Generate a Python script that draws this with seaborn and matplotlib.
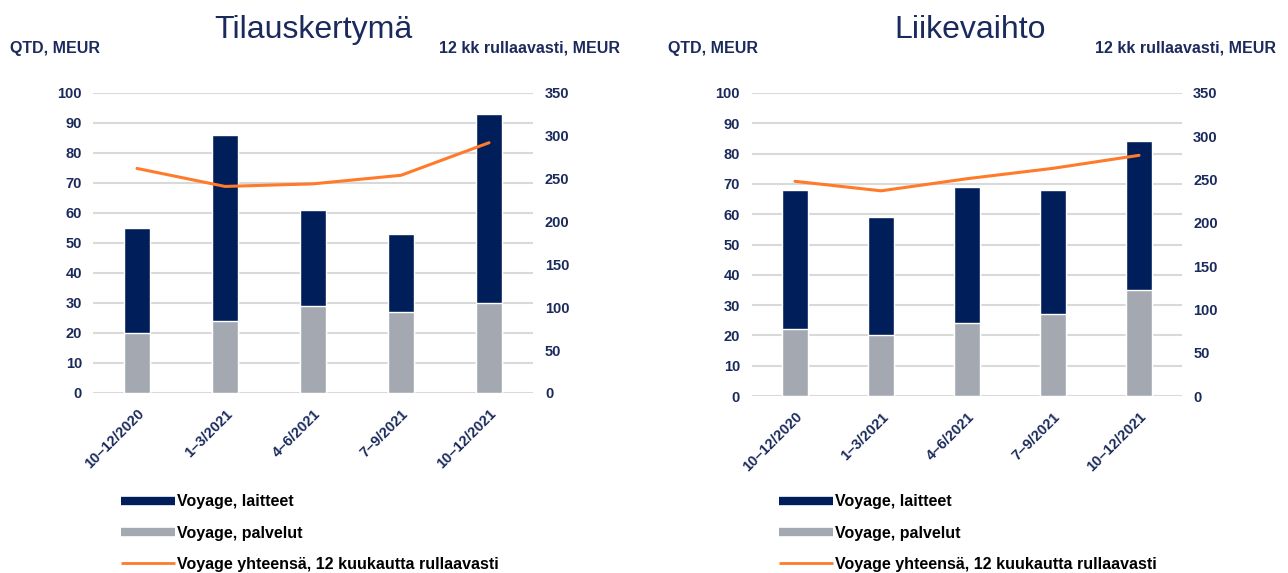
import pandas as pd
import numpy as np
import seaborn as sns
import matplotlib.pyplot as plt
from matplotlib.lines import Line2D

# --------------------------- DATA ---------------------------
quarters = ["10\u201312/2020", "1\u20133/2021", "4\u20136/2021", "7\u20139/2021", "10\u201312/2021"]

# Tilauskertymä
orders_laitteet = [35, 62, 32, 26, 63]
orders_palvelut = [20, 24, 29, 27, 30]
orders_rolling = [262, 241, 244, 254, 292]

# Liikevaihto
sales_laitteet = [46, 39, 45, 41, 49]
sales_palvelut = [22, 20, 24, 27, 35]
sales_rolling = [248, 237, 251, 263, 278]

titles = ["Tilauskertymä", "Liikevaihto"]
legend_labels = ["Voyage, laitteet", "Voyage, palvelut", "Voyage yhteensä, 12 kuukautta rullaavasti"]

# --------------------------- STYLE ---------------------------
sns.set_theme(style="white")
plt.rcParams['font.family'] = ['Liberation Sans', 'DejaVu Sans']

NAVY = '#001E5A'
GRAY = '#A4A8B1'
ORANGE = '#FF7A2A'
GRID = '#D9D9D9'
TXT = '#1B2A5C'

fig = plt.figure(figsize=(12.88, 5.73), dpi=100)
W, H = 1288, 573

panels = [
    dict(data=(orders_laitteet, orders_palvelut, orders_rolling), ax=(93, 93, 533, 393),
         title_x=313, hdr_l=10, hdr_r=620, leg_x=121, lpad=8, rpad=8.6, bw=0.306),
    dict(data=(sales_laitteet, sales_palvelut, sales_rolling), ax=(752, 93, 1182, 396),
         title_x=970, hdr_l=668, hdr_r=1276, leg_x=779, lpad=8.6, rpad=8, bw=0.313),
]

for title, p in zip(titles, panels):
    laitteet, palvelut, rolling = p['data']
    x0, y0, x1, y1 = p['ax']
    ax = fig.add_axes([x0 / W, 1 - y1 / H, (x1 - x0) / W, (y1 - y0) / H])

    df = pd.DataFrame({
        'quarter': quarters,
        'total': np.array(laitteet) + np.array(palvelut),
        'palvelut': palvelut,
        'rolling': rolling,
    })

    # stacked look: full height in navy, services drawn over it in gray
    sns.barplot(data=df, x='quarter', y='total', color=NAVY, width=p['bw'],
                saturation=1, ax=ax, zorder=3)
    sns.barplot(data=df, x='quarter', y='palvelut', color=GRAY, width=p['bw'],
                saturation=1, ax=ax, zorder=3)

    ax.set_ylim(0, 100)
    ax.set_yticks(range(0, 101, 10))
    ax.set_xlim(-0.5, 4.5)
    ax.yaxis.grid(True, color=GRID, linewidth=1.5, zorder=0)
    ax.set_axisbelow(True)
    for s in ax.spines.values():
        s.set_visible(False)
    ax.set_xlabel("")
    ax.set_ylabel("")
    ax.tick_params(axis='y', length=0, pad=p['lpad'], labelsize=10.5, labelcolor=TXT)
    ax.tick_params(axis='x', length=0, pad=10, labelsize=10.5, labelcolor=TXT)
    for lab in ax.get_yticklabels():
        lab.set_fontweight('bold')
    for lab in ax.get_xticklabels():
        lab.set_fontweight('bold')
        lab.set_rotation(45)
        lab.set_ha('right')
        lab.set_rotation_mode('anchor')

    # rolling 12 month line on right axis
    ax2 = ax.twinx()
    sns.lineplot(x=np.arange(len(quarters)), y=rolling, color=ORANGE, linewidth=2.2,
                 ax=ax2, sort=False, zorder=4)
    ax2.set_ylim(0, 350)
    ax2.set_yticks(range(0, 351, 50))
    ax2.set_xlim(-0.5, 4.5)
    for s in ax2.spines.values():
        s.set_visible(False)
    ax2.tick_params(axis='y', length=0, pad=p['rpad'], labelsize=10.5, labelcolor=TXT)
    for lab in ax2.get_yticklabels():
        lab.set_fontweight('bold')
    ax2.grid(False)

    # headers
    fig.text(p['title_x'] / W, 1 - 30 / H, title, ha='center', va='center',
             fontsize=23, color=TXT)
    fig.text(p['hdr_l'] / W, 1 - 48 / H, "QTD, MEUR", ha='left', va='center',
             fontsize=11.5, fontweight='bold', color=TXT)
    fig.text(p['hdr_r'] / W, 1 - 48 / H, "12 kk rullaavasti, MEUR", ha='right', va='center',
             fontsize=11.5, fontweight='bold', color=TXT)

    # legend
    handles = [
        Line2D([], [], color=NAVY, linewidth=6, solid_capstyle='butt'),
        Line2D([], [], color=GRAY, linewidth=6, solid_capstyle='butt'),
        Line2D([], [], color=ORANGE, linewidth=2, solid_capstyle='butt'),
    ]
    leg = fig.legend(handles, legend_labels, loc='upper left',
                     bbox_to_anchor=(p['leg_x'] / W - 0.0115, 1 - 480 / H),
                     frameon=False, handlelength=3.4, handletextpad=0.15,
                     labelspacing=1.02, prop={'size': 11.5, 'weight': 'bold'})
    for t in leg.get_texts():
        t.set_color('black')

fig.savefig("out.png", dpi=100)
plt.close()
